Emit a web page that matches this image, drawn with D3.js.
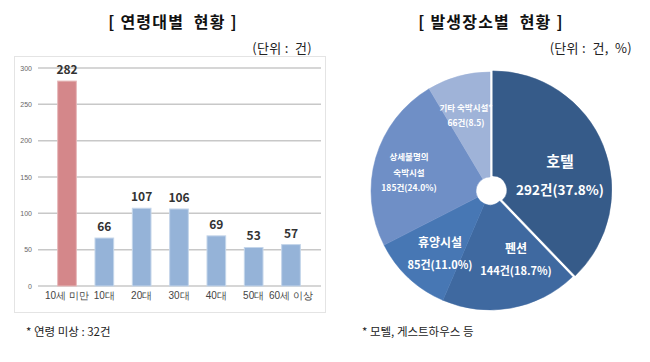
<!DOCTYPE html>
<html>
<head>
<meta charset="utf-8">
<script src="https://cdn.jsdelivr.net/npm/d3@7"></script>
<style>
body { margin: 0; background: #fff; }
svg { font-family: "Noto Sans CJK KR", "Malgun Gothic", sans-serif; }
.pre { white-space: pre; }
</style>
</head>
<body>
<svg id="chart" width="650" height="362"></svg>
<script>
// age group data
var ageLabels = ["10세 미만", "10대", "20대", "30대", "40대", "50대", "60세 이상"];
var ageCounts = [282, 66, 107, 106, 69, 53, 57];
var yTicks = [0, 50, 100, 150, 200, 250, 300];

// place data
var placeNames = ["호텔", "펜션", "휴양시설", "상세불명의 숙박시설", "기타 숙박시설*"];
var placeCounts = [292, 144, 85, 185, 66];
var placePct = ["37.8%", "18.7%", "11.0%", "24.0%", "8.5"];
var placeColors = ["#365b89", "#3f69a0", "#4777b4", "#6f8fc6", "#9fb3d8"];

var svg = d3.select("#chart");

// ---- left: bar chart ----
svg.append("text").attr("class", "pre").attr("x", 173).attr("y", 28).attr("text-anchor", "middle")
    .attr("font-size", 16).attr("font-weight", "bold").attr("fill", "#111")
    .attr("letter-spacing", 1.2)
    .text("[ 연령대별  현황 ]");
svg.append("text").attr("class", "pre").attr("x", 312).attr("y", 53).attr("text-anchor", "end")
    .attr("font-size", 13).attr("fill", "#222").attr("letter-spacing", 0.3)
    .text("(단위 :  건)");

svg.append("rect").attr("x", 14.5).attr("y", 56.5).attr("width", 311).attr("height", 256)
    .attr("fill", "none").attr("stroke", "#e4e4e4");

var x = d3.scaleBand().domain(ageLabels).range([39, 319]).padding(0.5);
var y = d3.scaleLinear().domain([0, 300]).range([286, 68]);

var g = svg.append("g");
g.selectAll(".grid").data(yTicks).join("line")
    .attr("x1", 38).attr("x2", 321)
    .attr("y1", d => y(d)).attr("y2", d => y(d))
    .attr("stroke", "#c8c8c8").attr("stroke-width", 1.5);

var yAxis = g.append("g").attr("transform", "translate(32,0)")
    .call(d3.axisLeft(y).tickValues(yTicks).tickSize(0).tickPadding(0));
yAxis.select(".domain").remove();
yAxis.selectAll("text").attr("font-size", 7).attr("fill", "#666")
    .attr("font-family", "Liberation Sans, sans-serif");

g.selectAll(".bar").data(ageCounts).join("rect")
    .attr("x", (d, i) => x(ageLabels[i]))
    .attr("y", d => y(d))
    .attr("width", x.bandwidth())
    .attr("height", d => y(0) - y(d))
    .attr("fill", (d, i) => i == 0 ? "#d4878a" : "#95b3d8")
    .attr("stroke", (d, i) => i == 0 ? "#e6b8b9" : "#c4d5ea")
    .attr("stroke-width", 1);

g.selectAll(".val").data(ageCounts).join("text")
    .attr("x", (d, i) => x(ageLabels[i]) + x.bandwidth() / 2)
    .attr("y", d => y(d) - 7)
    .attr("text-anchor", "middle").attr("font-size", 12).attr("font-weight", "bold")
    .attr("fill", "#333").text(d => d);

var xAxis = g.append("g").attr("transform", "translate(0,286)")
    .call(d3.axisBottom(x).tickSize(0).tickPadding(6));
xAxis.select(".domain").remove();
xAxis.selectAll("text").attr("font-size", 10).attr("fill", "#444");

svg.append("text").attr("x", 26).attr("y", 336).attr("font-size", 11.5).attr("fill", "#222")
    .text("* 연령 미상 : 32건");

// ---- right: pie chart ----
svg.append("text").attr("class", "pre").attr("x", 491).attr("y", 28).attr("text-anchor", "middle")
    .attr("font-size", 16).attr("font-weight", "bold").attr("fill", "#111")
    .attr("letter-spacing", 1.2)
    .text("[ 발생장소별  현황 ]");
svg.append("text").attr("class", "pre").attr("x", 632).attr("y", 53).attr("text-anchor", "end")
    .attr("font-size", 13).attr("fill", "#222").attr("letter-spacing", 0.3)
    .text("(단위 :  건,  %)");

var pie = d3.pie().sort(null).value(d => d)(placeCounts);
var arc = d3.arc().innerRadius(14).outerRadius(119);
var pg = svg.append("g").attr("transform", "translate(490,191)");

pg.selectAll(".slice").data(pie).join("path")
    .attr("d", arc)
    .attr("fill", (d, i) => placeColors[i])
    .attr("stroke", (d, i) => placeColors[i]).attr("stroke-width", 0.5)
    .attr("transform", (d, i) => {
        if (i != 0) return null;
        var a = (d.startAngle + d.endAngle) / 2;
        return "translate(" + (Math.sin(a) * 3) + "," + (-Math.cos(a) * 3) + ")";
    });

// labels
var labelPos = [
    {x: 70, y: -24, s: 15, s2: 13.5},
    {x: 26, y: 62, s: 12, s2: 11},
    {x: -50, y: 56, s: 12, s2: 11},
    {x: -81, y: -31, s: 8.5, s2: 8.5},
    {x: -24, y: -80, s: 8.5, s2: 8.5}
];
pie.forEach(function(d, i) {
    var p = labelPos[i];
    var t = pg.append("text").attr("text-anchor", "middle").attr("fill", "#fff")
        .attr("font-weight", "bold");
    if (i == 3) {
        t.append("tspan").attr("x", p.x).attr("y", p.y).attr("font-size", p.s).text("상세불명의");
        t.append("tspan").attr("x", p.x).attr("y", p.y + 16).attr("font-size", p.s).text("숙박시설");
        t.append("tspan").attr("x", p.x).attr("y", p.y + 31).attr("font-size", p.s2)
            .text(placeCounts[i] + "건(" + placePct[i] + ")");
    } else {
        var gap = i == 0 ? 28 : (i == 4 ? 15 : 22);
        t.append("tspan").attr("x", p.x).attr("y", p.y).attr("font-size", p.s).text(placeNames[i]);
        t.append("tspan").attr("x", p.x).attr("y", p.y + gap).attr("font-size", p.s2)
            .text(placeCounts[i] + "건(" + placePct[i] + ")");
    }
});

svg.append("text").attr("x", 362).attr("y", 336).attr("font-size", 11.5).attr("fill", "#222")
    .text("* 모텔, 게스트하우스 등");
</script>
</body>
</html>
